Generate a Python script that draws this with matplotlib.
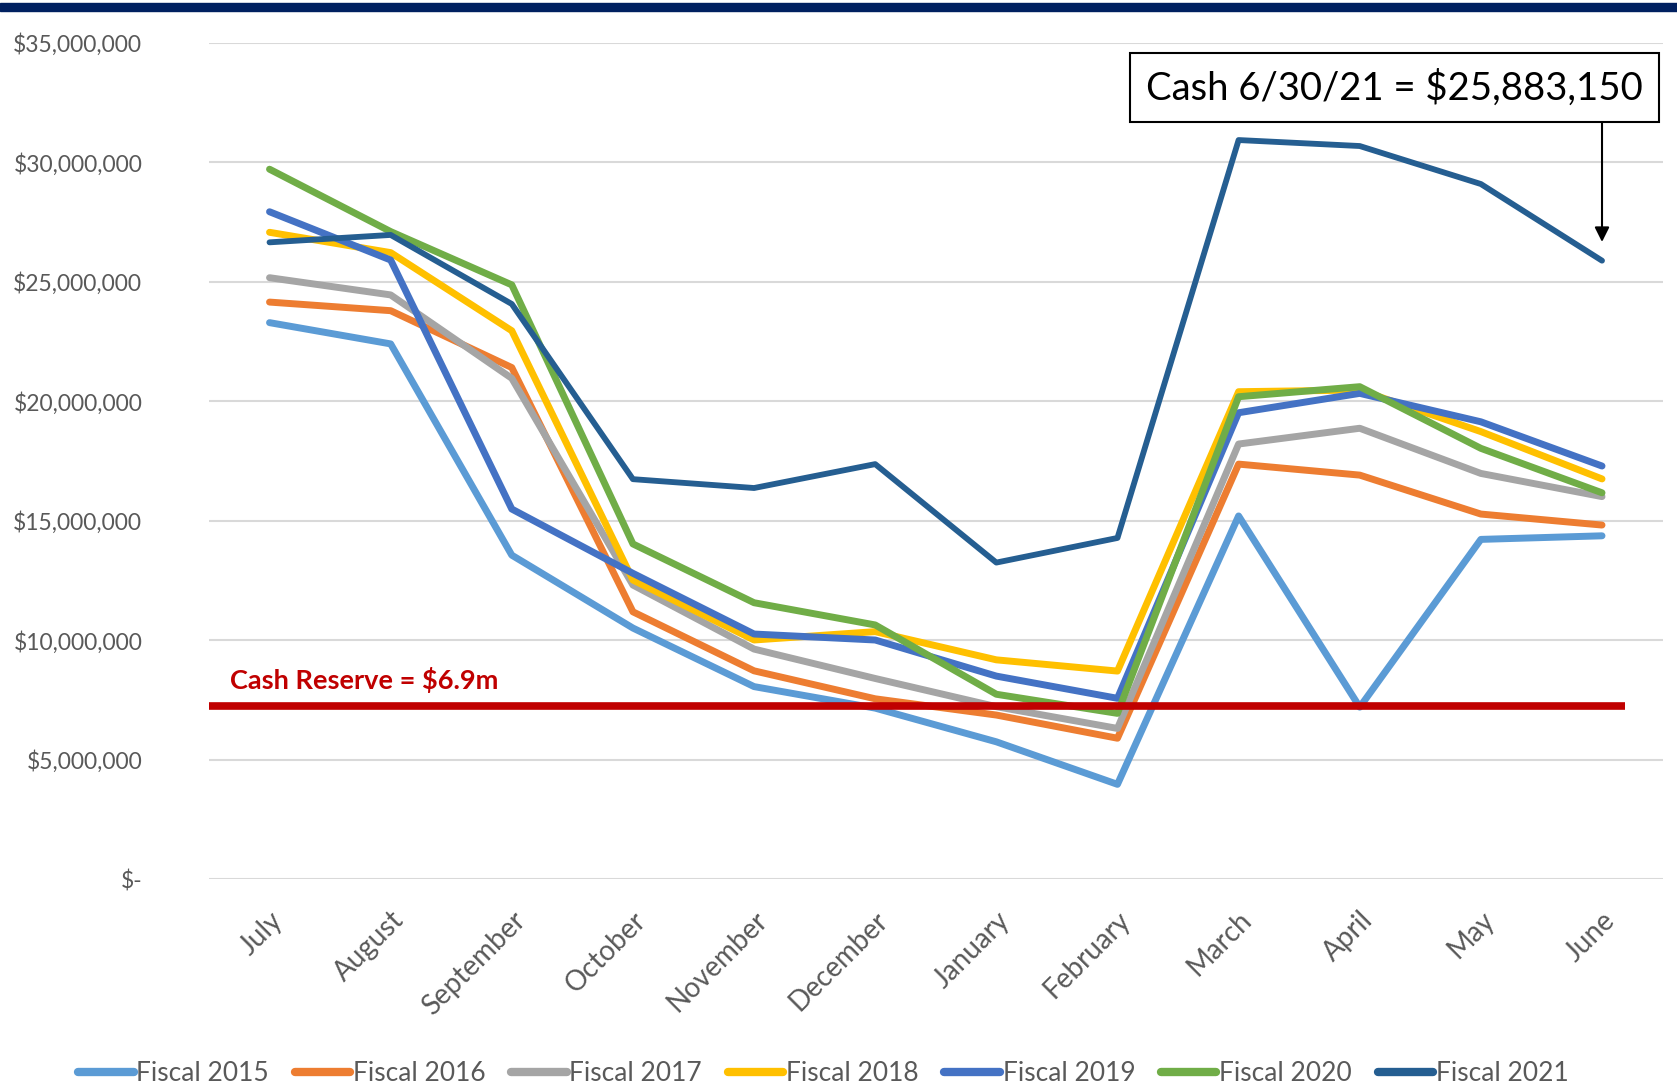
import numpy as np
import matplotlib
matplotlib.use('Agg')
import matplotlib.pyplot as plt
from matplotlib.patches import Rectangle

plt.rcParams['font.family'] = ['Lato', 'DejaVu Sans']

months = ['July', 'August', 'September', 'October', 'November', 'December',
          'January', 'February', 'March', 'April', 'May', 'June']

fy2015 = [23.29, 22.40, 13.56, 10.51, 8.06, 7.16, 5.75, 3.97, 15.20, 7.20, 14.22, 14.37]
fy2016 = [24.15, 23.79, 21.41, 11.19, 8.72, 7.55, 6.87, 5.90, 17.37, 16.91, 15.28, 14.82]
fy2017 = [25.17, 24.45, 20.96, 12.31, 9.63, 8.40, 7.22, 6.31, 18.21, 18.87, 16.98, 16.01]
fy2018 = [27.07, 26.22, 22.95, 12.52, 10.01, 10.36, 9.18, 8.71, 20.40, 20.47, 18.73, 16.75]
fy2019 = [27.93, 25.91, 15.49, 12.80, 10.26, 10.01, 8.50, 7.57, 19.52, 20.33, 19.14, 17.29]
fy2020 = [29.71, 27.10, 24.87, 14.03, 11.57, 10.64, 7.74, 6.94, 20.19, 20.61, 18.03, 16.17]
fy2021 = [26.65, 26.96, 24.07, 16.74, 16.37, 17.37, 13.25, 14.28, 30.93, 30.68, 29.09, 25.883150]

series = [
    ('Fiscal 2015', fy2015, '#5B9BD5'),
    ('Fiscal 2016', fy2016, '#ED7D31'),
    ('Fiscal 2017', fy2017, '#A5A5A5'),
    ('Fiscal 2018', fy2018, '#FFC000'),
    ('Fiscal 2019', fy2019, '#4472C4'),
    ('Fiscal 2020', fy2020, '#70AD47'),
    ('Fiscal 2021', fy2021, '#255E91'),
]

reserve_level = 7.26e6
reserve_label = 'Cash Reserve = $6.9m'
cash_label = 'Cash 6/30/21 = $25,883,150'

fig = plt.figure(figsize=(16.77, 10.86), dpi=100)
ax = fig.add_axes([0.1246, 0.1904, 0.8668, 0.7702])

x = np.arange(len(months))
for name, vals, col in series:
    lw = 4.2 if name == 'Fiscal 2021' else 5.0
    ax.plot(x, np.array(vals) * 1e6, color=col, lw=lw, label=name,
            solid_capstyle='round', solid_joinstyle='round', zorder=3)

# reserve line + label
ax.plot([-0.5, 11.19], [reserve_level, reserve_level], color='#C00000', lw=5.5,
        solid_capstyle='butt', zorder=4)
ax.text(-0.33, 8.34e6, reserve_label, color='#C00000', fontsize=19.5,
        fontweight='bold', ha='left', va='center', zorder=5)

# callout box for June 2021
ax.text(9.29, 33.12e6, cash_label, fontsize=27.5, ha='center', va='center', color='black',
        bbox=dict(boxstyle='square,pad=0.42', fc='white', ec='black', lw=1.5), zorder=6)
ax.annotate('', xy=(11, 26.55e6), xytext=(11, 31.75e6),
            arrowprops=dict(arrowstyle='-|>', color='black', lw=1.5, mutation_scale=22),
            zorder=6)

ax.set_xlim(-0.5, 11.5)
ax.set_ylim(0, 35e6)
ax.set_yticks(np.arange(0, 35e6 + 1, 5e6))
ax.set_yticklabels(['$-' if v == 0 else '${:,.0f}'.format(v) for v in np.arange(0, 35e6 + 1, 5e6)])
ax.set_xticks(x)
ax.set_xticklabels(months, rotation=45, ha='right', rotation_mode='anchor')
ax.tick_params(axis='y', length=0, pad=48, labelsize=16.5, labelcolor='#595959')
ax.tick_params(axis='x', length=0, pad=20, labelsize=20, labelcolor='#595959')
ax.grid(axis='y', color='#D9D9D9', lw=1.5, zorder=0)
ax.set_axisbelow(True)
for s in ax.spines.values():
    s.set_visible(False)

leg = fig.legend(loc='center', bbox_to_anchor=(0.491, 0.0115), ncol=7, frameon=False,
                 fontsize=19, handlelength=2.1, handletextpad=0.1, columnspacing=0.98,
                 labelcolor='#595959')
for h in leg.get_lines():
    h.set_linewidth(6)
    h.set_solid_capstyle('round')

fig.patches.append(Rectangle((0, 0.9899), 1, 0.0073, transform=fig.transFigure,
                             color='#002060', zorder=10))

fig.savefig('out.png', dpi=100)
